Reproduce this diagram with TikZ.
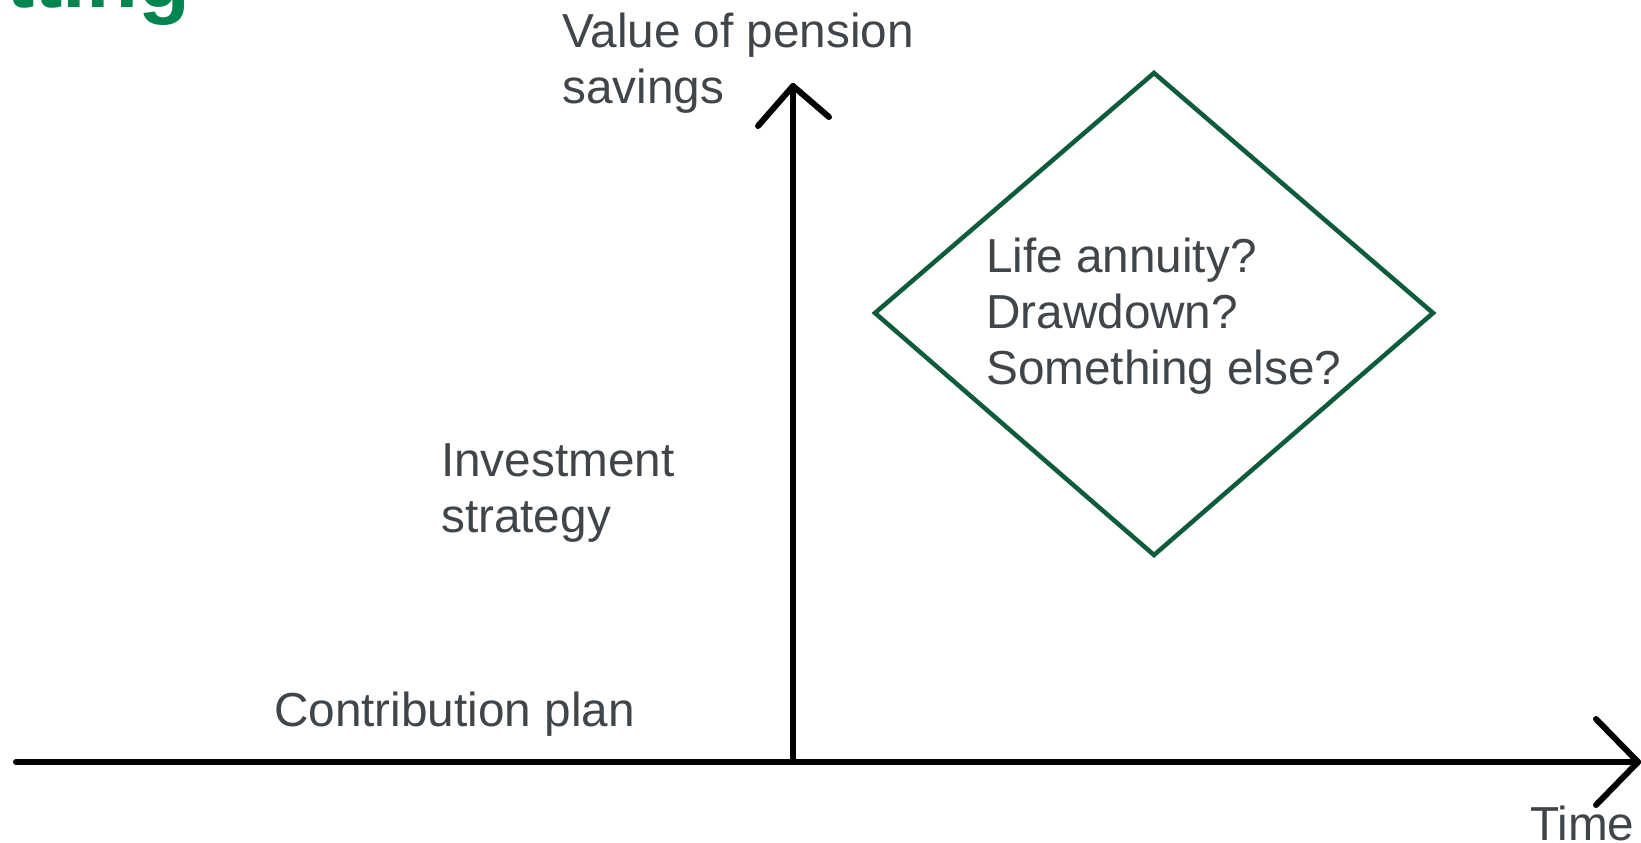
\documentclass[tikz,border=0pt]{standalone}
\usepackage{fontspec}
\setmainfont{Liberation Sans}
\definecolor{txtgray}{HTML}{404549}
\definecolor{dgreen}{HTML}{0E5C3C}
\definecolor{tgreen}{HTML}{00854F}
\begin{document}
\begin{tikzpicture}[x=1pt,y=-1pt,
  axis/.style={line width=6pt, line cap=round, line join=round, black},
  lbl/.style={anchor=base west, inner sep=0pt, align=left, text=txtgray, font=\fontsize{47.7}{56}\selectfont},
  ttl/.style={anchor=base west, inner sep=0pt, text=tgreen, font=\fontsize{85}{96}\selectfont\bfseries},
  diam/.style={draw=dgreen, line width=4.5pt, line join=miter}
  ]
\useasboundingbox[fill=white] (0,0) rectangle (1641,843);
\node[ttl] (title) at (6,8) {tting};
% axes
\coordinate (xstart) at (16,762);
\coordinate (origin) at (793,762);
\coordinate (xtip) at (1638,762);
\coordinate (ytip) at (793,86);
\draw[axis] (xstart) -- (xtip);
\draw[axis] (xtip) -- ++(-42,-43) (xtip) -- ++(-42,43);
\draw[axis] (origin) -- (ytip);
\draw[axis] (ytip) -- ++(-35,40) (ytip) -- ++(36,31);
% diamond
\coordinate (dtop) at (1154,73);
\coordinate (dright) at (1433,313);
\coordinate (dbottom) at (1154,555);
\coordinate (dleft) at (875,313);
\draw[diam] (dtop) -- (dright) -- (dbottom) -- (dleft) -- cycle;
% labels (anchor = baseline of the last line)
\node[lbl] (yl) at (562,103) {Value of pension\\savings};
\node[lbl] (dl) at (986,384) {Life annuity?\\Drawdown?\\Something else?};
\node[lbl] (inv) at (441,532) {Investment\\strategy};
\node[lbl] (con) at (274,726) {Contribution plan};
\node[lbl] (time) at (1530,840) {Time};
\end{tikzpicture}
\end{document}
